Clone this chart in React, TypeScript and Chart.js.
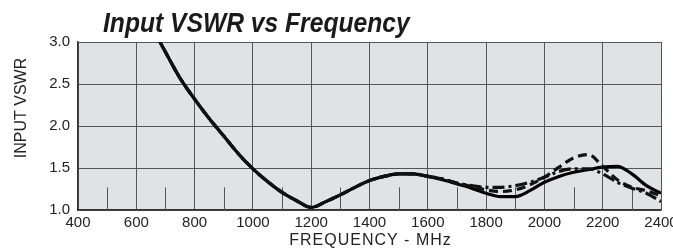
import React, { useEffect, useRef } from "react";
import { Chart, registerables } from "chart.js";

Chart.register(...registerables);

const frequencies = [650, 700, 750, 800, 850, 900, 950, 1000, 1050, 1100, 1150, 1200, 1250, 1300, 1350, 1400, 1450, 1500, 1550, 1600, 1650, 1700, 1750, 1800, 1850, 1900, 1950, 2000, 2050, 2100, 2150, 2200, 2250, 2300, 2350, 2400];
const solidVswr = [3.2, 2.88, 2.57, 2.32, 2.09, 1.88, 1.67, 1.49, 1.34, 1.21, 1.11, 1.03, 1.1, 1.18, 1.27, 1.35, 1.4, 1.43, 1.43, 1.4, 1.36, 1.31, 1.26, 1.2, 1.16, 1.16, 1.23, 1.33, 1.4, 1.45, 1.48, 1.51, 1.52, 1.43, 1.29, 1.2];
const dashedVswr = [3.2, 2.88, 2.57, 2.32, 2.09, 1.88, 1.67, 1.49, 1.34, 1.21, 1.11, 1.03, 1.1, 1.18, 1.27, 1.35, 1.4, 1.43, 1.43, 1.4, 1.37, 1.32, 1.28, 1.24, 1.22, 1.24, 1.3, 1.39, 1.51, 1.62, 1.66, 1.52, 1.36, 1.27, 1.23, 1.17];
const dashDotVswr = [3.2, 2.88, 2.57, 2.32, 2.09, 1.88, 1.67, 1.49, 1.34, 1.21, 1.11, 1.03, 1.1, 1.18, 1.27, 1.35, 1.4, 1.43, 1.43, 1.4, 1.37, 1.32, 1.29, 1.27, 1.27, 1.29, 1.33, 1.39, 1.46, 1.49, 1.49, 1.43, 1.33, 1.26, 1.2, 1.1];

const xTickValues = [400, 600, 800, 1000, 1200, 1400, 1600, 1800, 2000, 2200, 2400];
const yTickValues = [1.0, 1.5, 2.0, 2.5, 3.0];
const minorTickValues = [500, 700, 900, 1100, 1300, 1500, 1700, 1900, 2100, 2300];
const minorTickTop = 1.27;

const titleText = "Input VSWR vs Frequency";
const xTitleText = "FREQUENCY - MHz";
const yTitleText = "INPUT VSWR";

const FONT = "'Liberation Sans', Arial, sans-serif";

export default function App() {
  const canvasRef = useRef<HTMLCanvasElement | null>(null);

  useEffect(() => {
    if (!canvasRef.current) return;

    const backgroundPlugin = {
      id: "plotBackground",
      beforeDraw(chart: any) {
        const { ctx, chartArea } = chart;
        ctx.save();
        ctx.fillStyle = "#e1e2e4";
        ctx.fillRect(chartArea.left, chartArea.top, chartArea.right - chartArea.left, chartArea.bottom - chartArea.top);
        ctx.restore();
      },
    };

    const minorTickPlugin = {
      id: "minorTicks",
      beforeDatasetsDraw(chart: any) {
        const { ctx } = chart;
        const xs = chart.scales.x;
        const ys = chart.scales.y;
        ctx.save();
        ctx.strokeStyle = "#555";
        ctx.lineWidth = 1;
        const yb = ys.getPixelForValue(ys.min);
        const yt = ys.getPixelForValue(minorTickTop);
        for (const v of minorTickValues) {
          const x = Math.round(xs.getPixelForValue(v)) + 0.5;
          ctx.beginPath();
          ctx.moveTo(x, yb);
          ctx.lineTo(x, yt);
          ctx.stroke();
        }
        ctx.restore();
      },
    };

    const textPlugin = {
      id: "chartTexts",
      afterDraw(chart: any) {
        const { ctx, chartArea } = chart;
        // Chart title (condensed bold italic)
        ctx.save();
        ctx.font = `italic bold 28px ${FONT}`;
        ctx.fillStyle = "#1a1a1a";
        ctx.textAlign = "left";
        ctx.textBaseline = "alphabetic";
        ctx.translate(chartArea.left + 25, 32);
        ctx.scale(0.88, 1);
        ctx.fillText(titleText, 0, 0);
        ctx.restore();

        // X axis title
        ctx.save();
        ctx.font = `16px ${FONT}`;
        ctx.fillStyle = "#222";
        (ctx as any).letterSpacing = "1px";
        ctx.textAlign = "center";
        ctx.textBaseline = "middle";
        ctx.fillText(xTitleText, (chartArea.left + chartArea.right) / 2 + 1, 241);
        ctx.restore();

        // Y axis title
        ctx.save();
        ctx.font = `16px ${FONT}`;
        ctx.fillStyle = "#222";
        ctx.textAlign = "center";
        ctx.textBaseline = "middle";
        ctx.translate(22, 108);
        ctx.rotate(-Math.PI / 2);
        ctx.fillText(yTitleText, 0, 0);
        ctx.restore();
      },
    };

    const chart = new Chart(canvasRef.current, {
      type: "line",
      data: {
        labels: frequencies,
        datasets: [
          {
            label: "dash-dot",
            data: frequencies.map((f, i) => ({ x: f, y: dashDotVswr[i] })),
            borderColor: "#111",
            borderWidth: 3.2,
            borderDash: [12, 4, 3, 4],
            pointRadius: 0,
            cubicInterpolationMode: "monotone",
            fill: false,
          },
          {
            label: "dashed",
            data: frequencies.map((f, i) => ({ x: f, y: dashedVswr[i] })),
            borderColor: "#111",
            borderWidth: 3.2,
            borderDash: [9, 5],
            pointRadius: 0,
            cubicInterpolationMode: "monotone",
            fill: false,
          },
          {
            label: "solid",
            data: frequencies.map((f, i) => ({ x: f, y: solidVswr[i] })),
            borderColor: "#000",
            borderWidth: 3.2,
            pointRadius: 0,
            cubicInterpolationMode: "monotone",
            fill: false,
          },
        ],
      },
      options: {
        animation: false,
        responsive: false,
        maintainAspectRatio: false,
        layout: { padding: { top: 42, right: 12, left: 0, bottom: 0 } },
        plugins: {
          legend: { display: false },
          tooltip: { enabled: false },
          title: { display: false },
        },
        scales: {
          x: {
            type: "linear",
            min: 400,
            max: 2400,
            afterBuildTicks(scale: any) {
              scale.ticks = xTickValues.map((v) => ({ value: v }));
            },
            afterFit(scale: any) {
              scale.height = 40;
              scale.paddingLeft = 0;
              scale.paddingRight = 0;
            },
            ticks: {
              color: "#222",
              font: { family: FONT, size: 15 },
              padding: 4,
              maxRotation: 0,
              autoSkip: false,
              callback: (v: any) => String(v),
            },
            grid: { color: "#555", lineWidth: 1, drawTicks: false },
            border: { color: "#333", width: 1.5 },
          },
          y: {
            type: "linear",
            min: 1,
            max: 3,
            afterBuildTicks(scale: any) {
              scale.ticks = yTickValues.map((v) => ({ value: v }));
            },
            afterFit(scale: any) {
              scale.width = 78;
              scale.paddingTop = 0;
              scale.paddingBottom = 0;
            },
            ticks: {
              color: "#222",
              font: { family: FONT, size: 15 },
              padding: 8,
              autoSkip: false,
              callback: (v: any) => Number(v).toFixed(1),
            },
            grid: { color: "#555", lineWidth: 1, drawTicks: false },
            border: { color: "#333", width: 1.5 },
          },
        },
      },
      plugins: [backgroundPlugin, minorTickPlugin, textPlugin],
    } as any);

    return () => chart.destroy();
  }, []);

  return (
    <div style={{ position: "absolute", left: 0, top: 0, width: 673, height: 250, background: "#fff" }}>
      <canvas ref={canvasRef} width={673} height={250} style={{ width: 673, height: 250 }} />
    </div>
  );
}
